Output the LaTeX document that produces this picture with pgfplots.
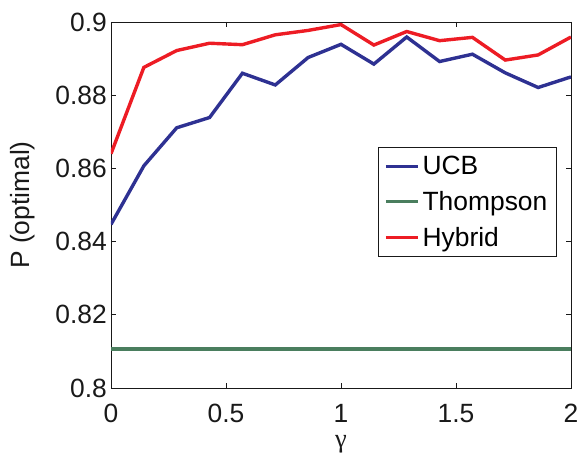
\documentclass[border=0pt]{standalone}
\usepackage{fontspec}
\setmainfont{Liberation Sans}
\newfontfamily\greekfont{Liberation Serif}
\usepackage{pgfplots}
\pgfplotsset{compat=1.18}

\definecolor{ucbblue}{HTML}{2E3192}
\definecolor{thgreen}{HTML}{4A7E5E}
\definecolor{hyred}{HTML}{ED1C24}

\pgfplotstableread{
x        ucb     hybrid
0        0.8447  0.8640
0.142857 0.8607  0.8876
0.285714 0.8711  0.8922
0.428571 0.8739  0.8942
0.571429 0.8860  0.8938
0.714286 0.8828  0.8965
0.857143 0.8903  0.8977
1.000000 0.8939  0.8993
1.142857 0.8885  0.8937
1.285714 0.8959  0.8974
1.428571 0.8892  0.8949
1.571429 0.8912  0.8958
1.714286 0.8861  0.8896
1.857143 0.8821  0.8910
2.000000 0.8850  0.8959
}\results

\begin{document}
\begin{tikzpicture}
  \begin{axis}[
    scale only axis,
    width=460bp, height=366bp,
    xmin=0, xmax=2,
    ymin=0.8, ymax=0.9,
    xtick={0,0.5,1,1.5,2},
    ytick={0.8,0.82,0.84,0.86,0.88,0.9},
    scaled y ticks=false,
    yticklabel style={/pgf/number format/fixed, /pgf/number format/precision=2,
      inner xsep=4bp},
    xticklabel style={anchor=base, yshift=-34bp},
    /pgf/number format/assume math mode=true,
    tick align=inside,
    major tick length=5bp,
    axis line style={black!90, line width=0.8bp},
    every tick/.style={black!90, line width=0.8bp},
    tick label style={font=\fontsize{26.5}{30}\selectfont, black!90},
    xlabel={{\greekfont γ}},
    ylabel={P (optimal)},
    every axis x label/.style={at={(axis description cs:0.5,0)},
      anchor=base, yshift=-59bp, font=\fontsize{26.5}{30}\selectfont, black!90},
    every axis y label/.style={at={(axis description cs:-0.1772,0.5)},
      rotate=90, anchor=base, font=\fontsize{26.5}{30}\selectfont, black!90},
    legend cell align=left,
    legend style={
      at={(0.580,0.658)}, anchor=north west,
      font=\fontsize{26.5}{30}\selectfont,
      draw=black!90, line width=0.8bp,
      row sep=11bp,
      inner xsep=6bp, inner ysep=7bp,
      nodes={inner xsep=3bp},
    },
    legend image code/.code={
      \draw[#1, line width=3.4bp] (0bp,0bp) -- (32bp,0bp);
    },
  ]
    \addplot[ucbblue, line width=3.4bp] table[x=x, y=ucb] {\results};
    \addlegendentry{UCB}
    \addplot[thgreen, line width=3.4bp] coordinates {(0,0.8107) (2,0.8107)};
    \addlegendentry{Thompson}
    \addplot[hyred, line width=3.4bp] table[x=x, y=hybrid] {\results};
    \addlegendentry{Hybrid}
  \end{axis}
  \pgfresetboundingbox
  \path[use as bounding box]
    ([xshift=-111bp, yshift=-67bp]current axis.south west)
    rectangle ([xshift=6bp, yshift=22bp]current axis.north east);
\end{tikzpicture}
\end{document}
